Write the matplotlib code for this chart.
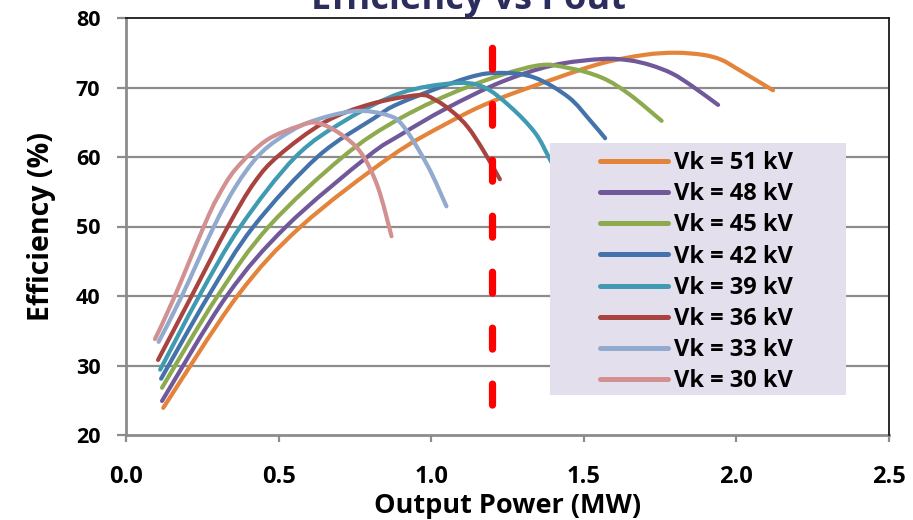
import matplotlib
matplotlib.use("Agg")
import numpy as np
import matplotlib.pyplot as plt
from matplotlib.lines import Line2D
from matplotlib.path import Path
from matplotlib.patches import PathPatch, Rectangle

plt.rcParams['font.family'] = ['Open Sans', 'DejaVu Sans']
plt.rcParams['font.weight'] = 'bold'
plt.rcParams['lines.scale_dashes'] = False

# ---- data ----
labels = ["Vk = 51 kV", "Vk = 48 kV", "Vk = 45 kV", "Vk = 42 kV",
          "Vk = 39 kV", "Vk = 36 kV", "Vk = 33 kV", "Vk = 30 kV"]

x51 = [0.122, 0.365, 0.573, 0.865, 1.05, 1.20, 1.40, 1.56, 1.70, 1.80, 1.89, 1.95, 2.01, 2.12]
y51 = [23.9, 40.0, 50.0, 60.0, 64.8, 68.0, 71.2, 73.5, 74.7, 75.0, 74.7, 74.0, 72.5, 69.6]

x48 = [0.118, 0.33, 0.525, 0.79, 0.90, 1.05, 1.23, 1.40, 1.56, 1.65, 1.72, 1.79, 1.855, 1.94]
y48 = [24.9, 40.0, 50.0, 60.0, 63.2, 67.0, 70.8, 73.2, 74.1, 73.9, 73.2, 72.0, 70.2, 67.5]

x45 = [0.118, 0.30, 0.468, 0.71, 0.90, 1.12, 1.34, 1.45, 1.56, 1.65, 1.755]
y45 = [26.8, 40.0, 50.0, 60.0, 65.6, 70.1, 73.1, 72.8, 71.4, 69.0, 65.2]

x42 = [0.115, 0.27, 0.418, 0.627, 0.81, 0.90, 1.12, 1.23, 1.34, 1.45, 1.52, 1.57]
y42 = [28.1, 40.0, 50.0, 60.0, 65.5, 67.8, 71.4, 72.1, 71.4, 68.6, 65.3, 62.7]

x39 = [0.112, 0.24, 0.375, 0.555, 0.72, 0.90, 1.07, 1.17, 1.26, 1.34, 1.385, 1.40]
y39 = [29.4, 40.0, 50.0, 60.0, 65.3, 69.2, 70.6, 70.1, 67.2, 63.5, 60.0, 58.7]

x36 = [0.105, 0.215, 0.334, 0.42, 0.50, 0.65, 0.80, 0.957, 1.01, 1.07, 1.12, 1.17, 1.225]
y36 = [30.8, 40.0, 50.0, 56.3, 60.2, 65.0, 67.6, 68.9, 68.3, 66.5, 64.3, 61.0, 56.8]

x33 = [0.107, 0.183, 0.288, 0.36, 0.43, 0.50, 0.60, 0.747, 0.858, 0.911, 0.99, 1.05]
y33 = [33.4, 40.0, 50.0, 55.8, 60.0, 62.6, 65.0, 66.6, 66.0, 64.3, 58.6, 52.9]

x30 = [0.095, 0.16, 0.255, 0.30, 0.36, 0.46, 0.57, 0.627, 0.70, 0.77, 0.825, 0.87]
y30 = [33.8, 40.0, 50.0, 54.2, 58.3, 62.4, 64.5, 64.9, 63.4, 60.6, 55.7, 48.6]

threshold_power = 1.2

series_x = [x51, x48, x45, x42, x39, x36, x33, x30]
series_y = [y51, y48, y45, y42, y39, y36, y33, y30]
colors = ["#E3843A", "#71589A", "#8DAA4F", "#4472AA",
          "#3F9AB2", "#A8433F", "#93AACF", "#D29090"]

xticks = [0.0, 0.5, 1.0, 1.5, 2.0, 2.5]
yticks = [20, 30, 40, 50, 60, 70, 80]


def smooth_path(xs, ys):
    """Excel-style smoothed line: Bezier segments through the given points."""
    p = np.column_stack([xs, ys]).astype(float)
    n = len(p)
    verts = [p[0]]
    codes = [Path.MOVETO]
    for i in range(n - 1):
        p0 = p[i - 1] if i > 0 else p[i]
        p1, p2 = p[i], p[i + 1]
        p3 = p[i + 2] if i + 2 < n else p[i + 1]
        c1 = p1 + (p2 - p0) / 6.0
        c2 = p2 - (p3 - p1) / 6.0
        verts += [c1, c2, p2]
        codes += [Path.CURVE4] * 3
    return Path(verts, codes)


# ---- figure ----
fig = plt.figure(figsize=(9.13, 5.2), dpi=100)
ax = fig.add_axes([126/913, 1-435/520, (889-126)/913, (435-18)/520])

grid_c = "#8C8C8C"
for yv in yticks[1:-1]:
    ax.axhline(yv, color=grid_c, lw=1.6, zorder=1)

handles = []
for xs, ys, c, lab in zip(series_x, series_y, colors, labels):
    patch = PathPatch(smooth_path(xs, ys), facecolor='none', edgecolor=c,
                      lw=3.0, capstyle='round', joinstyle='round', zorder=3)
    ax.add_patch(patch)
    handles.append(Line2D([], [], color=c, lw=3.6, solid_capstyle='round',
                          label=lab))

vl = ax.axvline(threshold_power, color="#FF0000", lw=5.2, zorder=4,
                dash_capstyle='round', linestyle=(18.4, (15.1, 25.2)))

ax.set_xlim(0, 2.5)
ax.set_ylim(20, 80)
ax.set_xticks(xticks)
ax.set_xticklabels([f"{v:.1f}" for v in xticks])
ax.set_yticks(yticks)

for s in ['left', 'bottom']:
    ax.spines[s].set_color(grid_c)
    ax.spines[s].set_linewidth(2.0)
for s in ['top', 'right']:
    ax.spines[s].set_color("#1A1A1A")
    ax.spines[s].set_linewidth(1.3)
    ax.spines[s].set_zorder(7)

ax.tick_params(axis='y', direction='out', length=6.5, width=1.6, color=grid_c,
               labelsize=15.5, pad=12)
ax.tick_params(axis='x', direction='out', length=5, width=1.6, color=grid_c,
               labelsize=17, pad=16.5)

ax.set_xlabel("Output Power (MW)", fontsize=19.5, fontweight='bold', labelpad=3)
ax.set_ylabel("Efficiency (%)", fontsize=20.5, fontweight='bold', labelpad=14)

fig.text(0.513, 1-9/520, "Efficiency vs Pout", ha='center', va='baseline',
         fontsize=26, fontweight='bold', color="#2B2D5C")

# legend box (Excel-style, with wide left margin)
ax.add_patch(Rectangle(((550-126)/763, (435-395)/417), 296/763, 252/417,
                       transform=ax.transAxes, facecolor="#E4DFEC",
                       edgecolor='none', zorder=5, clip_on=False))
leg = ax.legend(handles=handles, loc='upper left',
                bbox_to_anchor=((600-126)/763, (435-151)/417),
                frameon=False, prop={'size': 17, 'weight': 'bold'},
                handlelength=2.9, handletextpad=0.25, labelspacing=0.305,
                borderpad=0.0, borderaxespad=0, ncol=1)
leg.set_zorder(6)

fig.savefig("out.png", dpi=100)
